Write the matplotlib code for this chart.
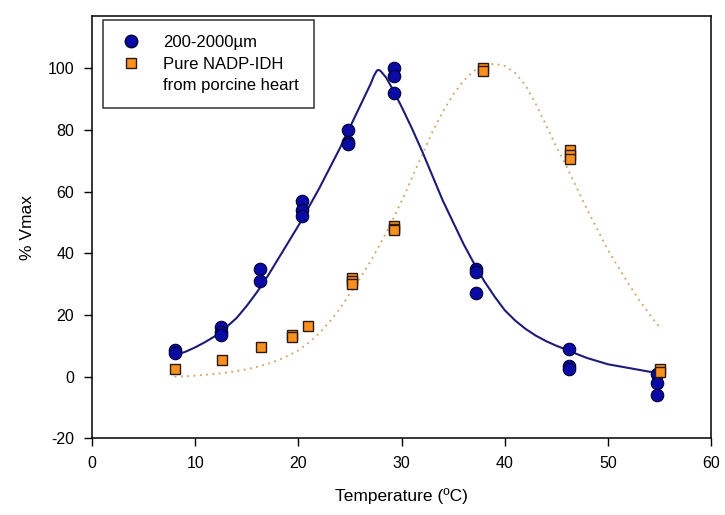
import matplotlib
matplotlib.use('Agg')
import matplotlib.pyplot as plt
from matplotlib.lines import Line2D

plt.rcParams['font.family'] = ['Liberation Sans', 'DejaVu Sans']
plt.rcParams['axes.unicode_minus'] = False

# measured points, 200-2000 um fraction
blue_x = [8, 8, 12.5, 12.5, 12.5, 16.3, 16.3, 20.3, 20.3, 20.3, 24.8, 24.8, 24.8,
          29.3, 29.3, 29.3, 37.2, 37.2, 37.2, 46.2, 46.2, 46.2, 54.7, 54.7, 54.7]
blue_y = [8.5, 7.5, 16, 14.5, 13.5, 35, 31, 57, 54, 52, 80, 76, 75.5,
          100, 97.5, 92, 35, 34, 27, 9, 3.5, 2.5, 1, -2, -6]

# pure NADP-IDH from porcine heart
orange_x = [8, 12.6, 16.4, 19.4, 19.4, 20.9, 25.2, 25.2, 25.2, 29.3, 29.3, 29.3,
            37.9, 37.9, 46.3, 46.3, 46.3, 55, 55]
orange_y = [2.5, 5.5, 9.5, 13.5, 12.8, 16.5, 32, 31, 30, 49, 48, 47.5,
            100, 99, 73.5, 72, 70.5, 2.5, 1.5]

# fitted curves
fit_blue_x = [8, 9, 10, 11, 12, 13, 14, 15, 16, 17, 18, 19, 20, 21, 22, 23, 24, 25,
              26, 26.5, 27, 27.3, 27.6, 27.8, 28, 28.5, 29, 29.5, 30, 31, 32, 33, 34,
              35, 36, 37, 38, 39, 40, 41, 42, 43, 44, 45, 46, 47, 48, 49, 50, 51, 52,
              53, 54, 54.6]
fit_blue_y = [7, 8, 9.5, 11.3, 13.3, 16, 19, 23, 27.5, 32.5, 38, 43.5, 49, 55, 61,
              67.5, 74, 81, 88, 91.5, 95, 97.5, 99.3, 99.5, 99, 97, 94, 90.8, 87.5,
              80.5, 73, 65, 57, 50, 43, 36.8, 31, 26, 21.5, 18.2, 15.5, 13.3, 11.5,
              10, 8.7, 7.3, 6, 5, 4, 3.4, 2.8, 2.2, 1.6, 1.3]

fit_orange_x = [8, 9, 10, 11, 12, 13, 14, 15, 16, 17, 18, 19, 20, 21, 22, 23, 24, 25,
                26, 27, 28, 29, 30, 31, 32, 33, 34, 35, 36, 37, 38, 39, 40, 41, 42,
                43, 44, 45, 46, 47, 48, 49, 50, 51, 52, 53, 54, 55]
fit_orange_y = [0, 0.1, 0.3, 0.6, 0.9, 1.3, 1.8, 2.4, 3.2, 4.1, 5.3, 6.8, 8.5, 11,
                14, 17.7, 22, 27, 32, 37.5, 43.5, 50, 57, 64.5, 72, 79.5, 86, 91.5,
                96, 99.2, 101, 101.5, 100.8, 98.5, 94.5, 88.5, 81.5, 74.5, 68, 61, 54,
                47.5, 41, 35.5, 30, 25, 20.3, 16]

fig = plt.figure(figsize=(7.25, 5.15), dpi=100)
ax = fig.add_axes([0.127, 0.149, 0.854, 0.82])

ax.plot(fit_blue_x, fit_blue_y, color='#1c1c78', lw=1.5, zorder=2)
ax.plot(fit_orange_x, fit_orange_y, color='#d2a060', lw=1.3, ls=(0, (1, 2.5)), zorder=2)

ax.plot(blue_x, blue_y, 'o', ms=9, mfc='#0a0aa5', mec='#000030', mew=0.8, zorder=3)
ax.plot(orange_x, orange_y, 's', ms=7.5, mfc='#f7901e', mec='#2a1a10', mew=1.0, zorder=3)

ax.set_xlim(0, 60)
ax.set_ylim(-20, 117)
ax.set_xticks(range(0, 61, 10))
ax.set_yticks(range(-20, 101, 20))
ax.tick_params(direction='out', length=6, width=1, labelsize=11.5, pad=7)
for s in ax.spines.values():
    s.set_linewidth(1.1)

ax.set_xlabel('Temperature (ºC)', fontsize=12.5, labelpad=12)
ax.set_ylabel('% Vmax', fontsize=12.5, labelpad=9)

handles = [
    Line2D([], [], ls='none', marker='o', ms=9, mfc='#0a0aa5', mec='#000030'),
    Line2D([], [], ls='none', marker='s', ms=7, mfc='#f7901e', mec='#2a1a10'),
    Line2D([], [], ls='none'),
]
labels = ['200-2000µm', 'Pure NADP-IDH', 'from porcine heart']
leg = ax.legend(handles, labels, loc='upper left', bbox_to_anchor=(0.012, 0.998),
                fontsize=12, frameon=True, fancybox=False, edgecolor='black',
                handlelength=1.6, handletextpad=1.1, borderpad=0.9, labelspacing=0.4,
                borderaxespad=0.2)
leg.get_frame().set_linewidth(1.1)

fig.savefig('out.png', dpi=100)
